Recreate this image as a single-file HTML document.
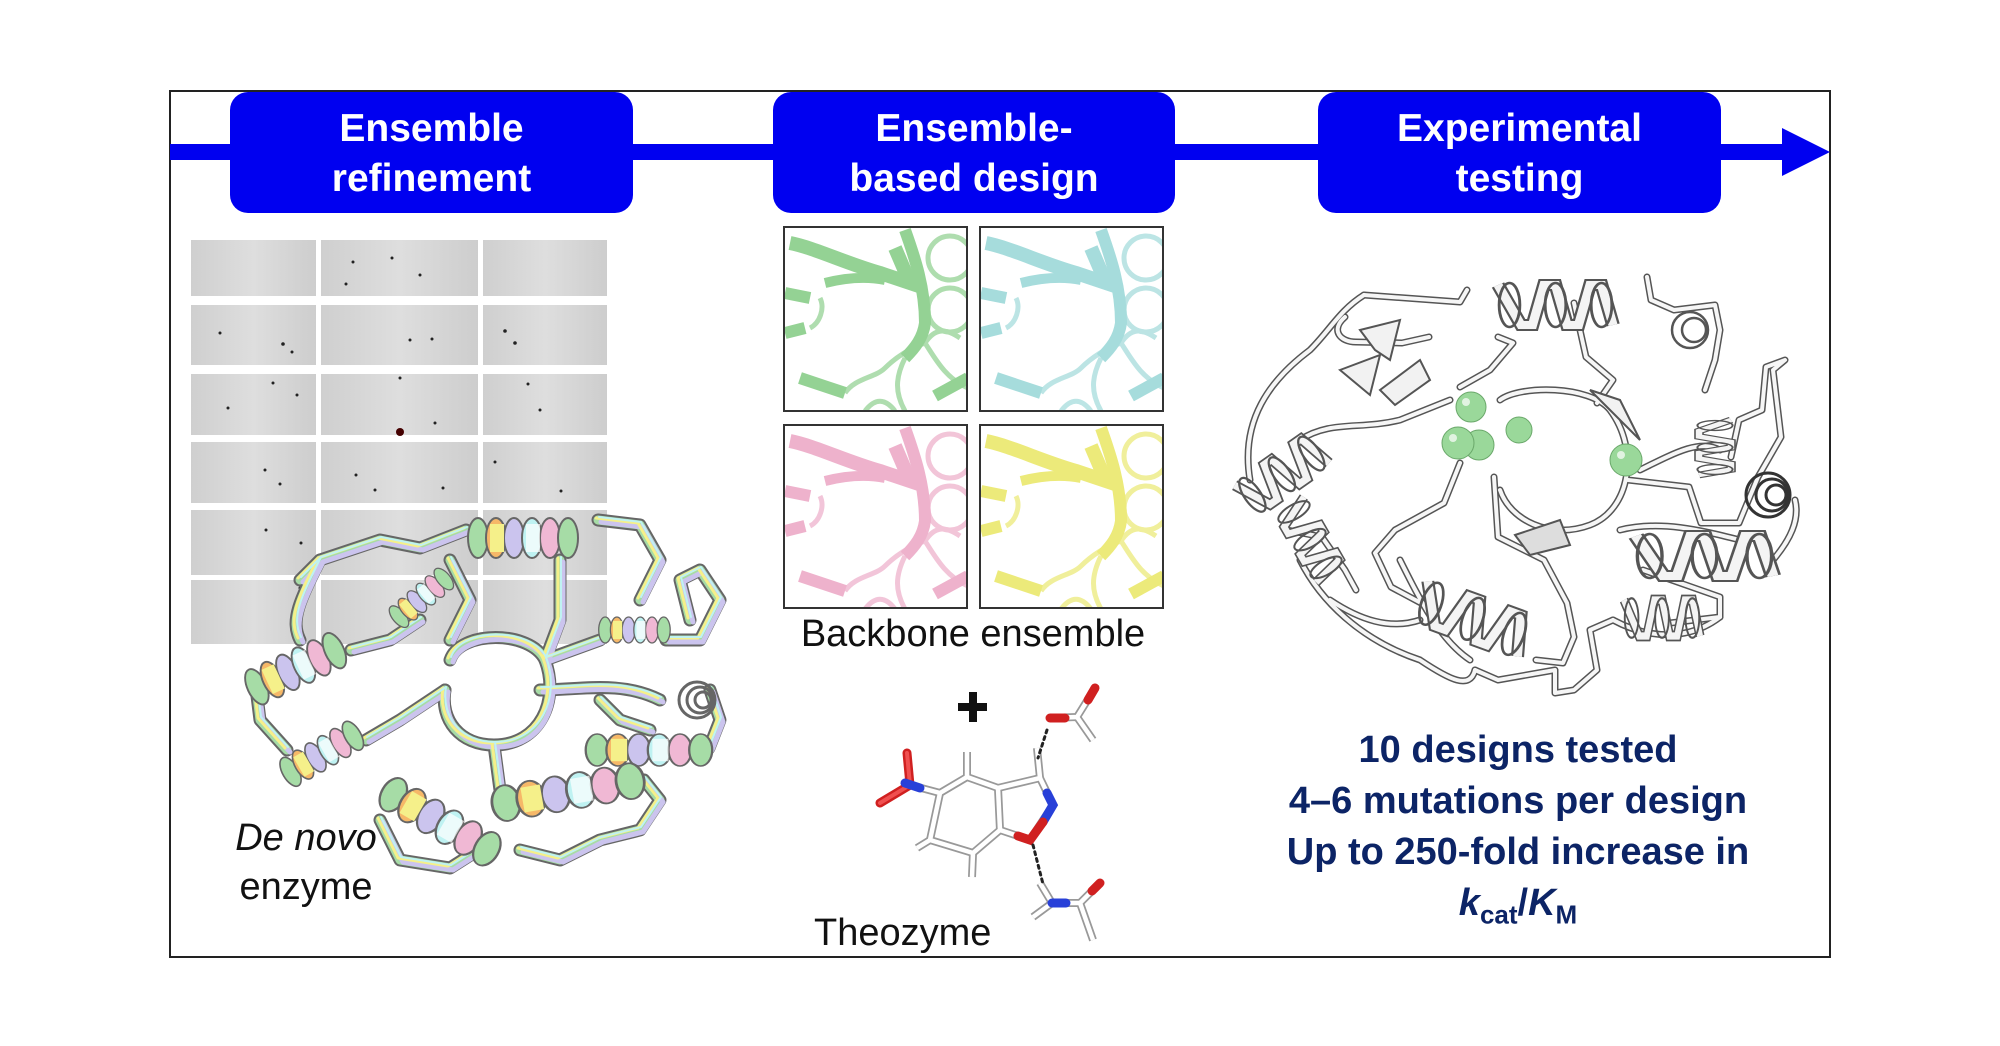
<!DOCTYPE html>
<html><head><meta charset="utf-8"><style>
html,body{margin:0;padding:0;background:#fff;}
body{width:2000px;height:1046px;position:relative;overflow:hidden;font-family:"Liberation Sans",Arial,sans-serif;}
.t{position:absolute;white-space:nowrap;}
</style></head><body>
<svg width="2000" height="1046" style="position:absolute;left:0;top:0" xmlns:xlink="http://www.w3.org/1999/xlink">
<defs>
<linearGradient id="g1" x1="0" x2="1"><stop offset="0" stop-color="#cfcfcf"/><stop offset=".5" stop-color="#dedede"/><stop offset="1" stop-color="#cdcdcd"/></linearGradient>
<symbol id="hx" overflow="visible">
<g stroke="#555" stroke-width="2.5" fill="#fafafa">
<path d="M0,-20 L20,20 L30,20 L40,-20 L50,-20 L60,20 L70,20 L80,-20 L90,-20 L100,20" fill="none" stroke="#555" stroke-width="12"/>
<path d="M0,-20 L20,20 L30,20 L40,-20 L50,-20 L60,20 L70,20 L80,-20 L90,-20 L100,20" fill="none" stroke="#f4f4f4" stroke-width="8"/>
<ellipse cx="10" cy="0" rx="9" ry="22" fill="none"/>
<ellipse cx="50" cy="0" rx="9" ry="22" fill="none"/>
<ellipse cx="90" cy="0" rx="9" ry="22" fill="none"/>
</g>
</symbol>
<symbol id="hxc" overflow="visible">
<g stroke="#666" stroke-width="2">
<ellipse cx="8" cy="0" rx="10" ry="20" fill="#a6dca6"/>
<ellipse cx="26" cy="0" rx="10" ry="20" fill="#f6b868"/>
<ellipse cx="44" cy="0" rx="10" ry="20" fill="#cbc4ee"/>
<ellipse cx="62" cy="0" rx="10" ry="20" fill="#bff2f2"/>
<ellipse cx="80" cy="0" rx="10" ry="20" fill="#f0b8d4"/>
<ellipse cx="98" cy="0" rx="10" ry="20" fill="#a6dca6"/>
<rect x="20" y="-14" width="14" height="28" fill="#f5f08a" stroke="none"/>
<rect x="56" y="-14" width="14" height="28" fill="#fff" stroke="none" opacity=".7"/>
</g>
</symbol>
<g id="rloops">
<path d="M1364,295 L1460,302 L1467,290"/>
<path d="M1345,317 C1330,330 1340,342 1356,342 L1402,343 L1429,337"/>
<path d="M1500,400 C1520,385 1590,385 1610,410 C1640,450 1630,510 1590,525 C1550,540 1510,520 1500,490"/>
<path d="M1460,463 L1444,503 L1395,530 L1375,553 L1391,587 L1421,603"/>
<path d="M1494,477 L1498,537 L1544,560 L1567,603 L1574,637 L1563,663 L1536,660"/>
<path d="M1628,480 L1689,487 L1701,523 L1739,523 L1758,477 L1781,437 L1773,370 L1785,360 L1766,367 L1762,410 L1739,420 L1731,457"/>
<path d="M1643,570 L1720,597 L1720,617 L1670,623"/>
<path d="M1287,530 L1322,537 L1345,570 L1356,590"/>
<path d="M1475,670 L1498,680 L1555,670 L1555,693 L1574,690 L1597,670 L1590,630 L1613,620"/>
<path d="M1647,277 L1651,300 L1674,310 L1715,305 L1720,330 L1715,360 L1705,390"/>
<path d="M1574,303 L1586,357 L1613,380 L1597,403"/>
<path d="M1460,387 L1490,370 L1513,343 L1498,337"/>
<path d="M1300,440 C1330,420 1360,430 1400,420 L1450,400"/>
<path d="M1620,530 C1660,520 1700,530 1740,540"/>
<path d="M1400,560 C1420,600 1440,640 1470,660"/>
<path d="M1330,600 C1360,620 1390,630 1420,620"/>
<path d="M1640,470 C1680,450 1700,440 1720,450"/>
<path d="M1250,480 C1240,420 1270,380 1310,350 C1330,330 1340,310 1364,295"/>
<path d="M1300,560 C1320,600 1360,640 1420,660 C1450,680 1470,690 1475,670"/>
<path d="M1613,620 C1650,640 1690,640 1720,617"/>
<path d="M1773,560 C1790,540 1800,520 1795,500"/>
</g>
<g id="lloops">
<path d="M300,580 L320,560 L380,540 L420,548 L466,530"/>
<path d="M598,520 L640,525 L660,560 L640,600"/>
<path d="M351,650 L390,640 L420,620"/>
<path d="M450,660 C460,630 530,630 545,660 C560,700 540,745 494,745 C460,745 440,720 445,690"/>
<path d="M666,640 L700,640 L720,600 L700,570 L680,580 L690,620"/>
<path d="M709,748 L720,720 L710,690"/>
<path d="M494,745 L500,790"/>
<path d="M366,740 L400,720 L445,690"/>
<path d="M545,660 L600,640"/>
<path d="M380,820 L400,860 L450,868 L494,840"/>
<path d="M644,780 L660,800 L640,830 L600,840 L560,860 L520,850"/>
<path d="M287,750 L260,720 L255,680"/>
<path d="M450,560 L470,600 L450,640"/>
<path d="M560,560 L560,620 L545,660"/>
<path d="M600,700 L620,720 L650,730"/>
<path d="M320,560 C300,600 290,620 300,640"/>
<path d="M540,690 C580,690 620,680 660,700"/>
</g>
<g id="panel">
<path d="M5,15 C30,20 60,35 95,45 L125,55 L110,20" stroke-width="14" stroke="currentColor" fill="none"/>
<path d="M120,2 C130,30 140,60 140,95 C138,110 130,120 120,130" stroke-width="12" stroke="currentColor" fill="none"/>
<path d="M40,55 C60,50 80,48 100,52" stroke-width="10" stroke="currentColor" fill="none"/>
<path d="M0,65 L25,70 M0,105 L20,100 M15,150 C30,155 45,160 60,165 M150,168 L183,150" stroke-width="12" stroke="currentColor" fill="none"/>
<g fill="none" stroke="currentColor" stroke-width="5" opacity=".75">
<circle cx="165" cy="30" r="22"/><circle cx="165" cy="82" r="22"/>
<path d="M35,70 C40,80 35,95 25,100 M100,140 C110,130 125,120 140,115 C150,130 160,150 183,160 M60,165 C70,150 90,150 100,140 M140,115 C150,100 160,100 175,110 M80,183 C90,170 100,170 110,183 M120,130 C110,150 110,165 120,183"/>
</g>
</g>
</defs>
<rect x="170" y="91" width="1660" height="866" fill="#fff" stroke="#222" stroke-width="2"/>
<rect x="170" y="144" width="1620" height="16" fill="#0000f0"/>
<polygon points="1782,128 1830,152 1782,176" fill="#0000f0"/>
<rect x="230" y="92" width="403" height="121" rx="18" fill="#0000f0"/>
<rect x="773" y="92" width="402" height="121" rx="18" fill="#0000f0"/>
<rect x="1318" y="92" width="403" height="121" rx="18" fill="#0000f0"/>
<g fill="url(#g1)">
<rect x="191" y="240" width="125" height="56"/><rect x="321" y="240" width="157" height="56"/><rect x="483" y="240" width="124" height="56"/>
<rect x="191" y="305" width="125" height="60"/><rect x="321" y="305" width="157" height="60"/><rect x="483" y="305" width="124" height="60"/>
<rect x="191" y="374" width="125" height="61"/><rect x="321" y="374" width="157" height="61"/><rect x="483" y="374" width="124" height="61"/>
<rect x="191" y="442" width="125" height="61"/><rect x="321" y="442" width="157" height="61"/><rect x="483" y="442" width="124" height="61"/>
<rect x="191" y="510" width="125" height="65"/><rect x="321" y="510" width="157" height="65"/><rect x="483" y="510" width="124" height="65"/>
<rect x="191" y="580" width="125" height="64"/><rect x="321" y="580" width="157" height="64"/><rect x="483" y="580" width="124" height="64"/>
</g>
<g fill="#222">
<circle cx="353" cy="262" r="1.5"/><circle cx="392" cy="258" r="1.5"/><circle cx="420" cy="275" r="1.5"/><circle cx="346" cy="284" r="1.5"/>
<circle cx="220" cy="333" r="1.5"/><circle cx="283" cy="344" r="1.8"/><circle cx="292" cy="352" r="1.5"/><circle cx="410" cy="340" r="1.5"/><circle cx="432" cy="339" r="1.5"/><circle cx="505" cy="331" r="1.8"/><circle cx="515" cy="343" r="1.8"/>
<circle cx="273" cy="383" r="1.5"/><circle cx="297" cy="395" r="1.5"/><circle cx="228" cy="408" r="1.5"/><circle cx="400" cy="378" r="1.5"/><circle cx="435" cy="423" r="1.5"/><circle cx="528" cy="384" r="1.5"/><circle cx="540" cy="410" r="1.5"/>
<circle cx="400" cy="432" r="4" fill="#400"/>
<circle cx="265" cy="470" r="1.5"/><circle cx="280" cy="484" r="1.5"/><circle cx="356" cy="475" r="1.5"/><circle cx="375" cy="490" r="1.5"/><circle cx="443" cy="488" r="1.5"/><circle cx="495" cy="462" r="1.5"/><circle cx="561" cy="491" r="1.5"/>
<circle cx="266" cy="530" r="1.5"/><circle cx="301" cy="543" r="1.5"/><circle cx="300" cy="588" r="1.5"/>
</g>
<g fill="none" stroke-linecap="round" stroke-linejoin="round">
<use xlink:href="#lloops" stroke="#666" stroke-width="13"/>
<use xlink:href="#lloops" stroke="#a6dca6" stroke-width="9"/>
<use xlink:href="#lloops" stroke="#cbc4ee" stroke-width="5" transform="translate(3,2)"/>
<use xlink:href="#lloops" stroke="#f5f08a" stroke-width="3" transform="translate(-2,-2)"/>
<use xlink:href="#lloops" stroke="#bff2f2" stroke-width="2" transform="translate(1,-3)"/>
</g>
<use xlink:href="#hxc" transform="translate(470,538)"/>
<use xlink:href="#hxc" transform="translate(250,690) rotate(-25) scale(.95)"/>
<use xlink:href="#hxc" transform="translate(285,775) rotate(-30) scale(.8)"/>
<use xlink:href="#hxc" transform="translate(395,620) rotate(-40) scale(.65)"/>
<use xlink:href="#hxc" transform="translate(600,630) scale(.65)"/>
<use xlink:href="#hxc" transform="translate(588,750) scale(1.15,.8)"/>
<use xlink:href="#hxc" transform="translate(495,805) rotate(-10) scale(1.4,.9)"/>
<use xlink:href="#hxc" transform="translate(385,790) rotate(30) scale(1.2,.9)"/>
<g fill="none" stroke="#666" stroke-width="3"><circle cx="697" cy="700" r="18"/><circle cx="700" cy="700" r="13"/><circle cx="703" cy="700" r="8"/></g>
<g stroke="#333" stroke-width="2" fill="#fff">
<rect x="784" y="227" width="183" height="184"/>
<rect x="980" y="227" width="183" height="184"/>
<rect x="784" y="425" width="183" height="183"/>
<rect x="980" y="425" width="183" height="183"/>
</g>
<svg x="785" y="228" width="181" height="182" overflow="hidden"><use xlink:href="#panel" style="color:#94d294"/></svg>
<svg x="981" y="228" width="181" height="182" overflow="hidden"><use xlink:href="#panel" style="color:#a6dcdc"/></svg>
<svg x="785" y="426" width="181" height="181" overflow="hidden"><use xlink:href="#panel" style="color:#eeb2cc"/></svg>
<svg x="981" y="426" width="181" height="181" overflow="hidden"><use xlink:href="#panel" style="color:#ecea7a"/></svg>
<rect x="958" y="703" width="29" height="8" fill="#111"/><rect x="969" y="692" width="8" height="30" fill="#111"/>
<g fill="none" stroke-linecap="round" stroke-linejoin="round">
<g id="mol">
<path d="M940,793 L967,777 L998,788 L1000,830 L973,853 L930,840 Z"/>
<path d="M998,788 L1040,778 L1053,805 L1030,840 L1000,830"/>
<path d="M967,777 L967,752 M973,853 L972,877 M930,840 L917,848 M1040,778 L1037,748 M940,793 L910,785"/>
<path d="M1050,718 L1077,717 L1095,688 M1077,717 L1093,740"/>
<path d="M1052,903 L1080,903 L1100,883 M1080,903 L1093,940 M1052,903 L1033,917 M1052,903 L1040,883"/>
</g>
</g>
<use xlink:href="#mol" stroke="#999" stroke-width="8" fill="none"/>
<use xlink:href="#mol" stroke="#fff" stroke-width="4.5" fill="none"/>
<g stroke-linecap="round" fill="none">
<path d="M910,785 L907,753 M910,785 L880,803" stroke="#d02020" stroke-width="9"/>
<path d="M910,785 L907,753 M910,785 L880,803" stroke="#f05050" stroke-width="4"/>
<path d="M920,788 L905,783" stroke="#2840d8" stroke-width="9"/>
<path d="M1047,793 L1053,805 L1043,822" stroke="#2840d8" stroke-width="9"/>
<path d="M1043,822 L1030,840 L1018,836" stroke="#d02020" stroke-width="9"/>
<path d="M1050,718 L1065,718 M1095,688 L1088,700" stroke="#d02020" stroke-width="9"/>
<path d="M1052,903 L1066,903" stroke="#2840d8" stroke-width="9"/>
<path d="M1100,883 L1092,891" stroke="#d02020" stroke-width="9"/>
<path d="M1047,730 L1038,758 M1033,845 L1043,884" stroke="#222" stroke-width="3" stroke-dasharray="3,4"/>
</g>
<g fill="none" stroke-linecap="round" stroke-linejoin="round">
<use xlink:href="#rloops" stroke="#555" stroke-width="7"/>
<use xlink:href="#rloops" stroke="#f6f6f6" stroke-width="4"/>
</g>
<g stroke="#555" stroke-width="2" fill="#f2f2f2">
<path d="M1590,390 L1620,400 L1640,440 L1630,430 L1610,410 Z"/>
<path d="M1515,535 L1560,520 L1570,545 L1530,555 Z" fill="#ddd"/>
<path d="M1360,330 L1400,320 L1390,360 L1375,350 Z"/>
<path d="M1380,390 L1420,360 L1430,380 L1395,405 Z"/>
<path d="M1340,370 L1380,355 L1370,395 Z"/>
</g>
<use xlink:href="#hx" transform="translate(1498,305) scale(1.15,1)"/>
<use xlink:href="#hx" transform="translate(1245,500) rotate(-35) scale(.9)"/>
<use xlink:href="#hx" transform="translate(1290,505) rotate(60) scale(.8)"/>
<use xlink:href="#hx" transform="translate(1636,556) scale(1.37,1)"/>
<use xlink:href="#hx" transform="translate(1624,618) scale(.76,.9)"/>
<use xlink:href="#hx" transform="translate(1421,600) rotate(20) scale(1.1,1)"/>
<use xlink:href="#hx" transform="translate(1715,420) rotate(90) scale(.55,.8)"/>
<g fill="none" stroke="#555" stroke-width="2.5"><circle cx="1690" cy="330" r="18"/><circle cx="1694" cy="330" r="12"/></g>
<g fill="none" stroke="#333" stroke-width="3"><circle cx="1768" cy="495" r="22"/><circle cx="1772" cy="495" r="16"/><circle cx="1776" cy="495" r="10"/></g>
<g fill="#9ad89a" stroke="#6aa86a" stroke-width="1">
<circle cx="1471" cy="407" r="15"/><circle cx="1479" cy="445" r="15"/><circle cx="1458" cy="443" r="16"/><circle cx="1519" cy="430" r="13"/><circle cx="1626" cy="460" r="16"/>
</g>
<g fill="#fff" opacity=".7"><circle cx="1466" cy="402" r="4"/><circle cx="1453" cy="438" r="4"/><circle cx="1621" cy="455" r="4"/></g>
</svg>
<div class="t" style="left:230px;width:403px;top:104px;text-align:center;color:#fff;font-weight:bold;font-size:39px;line-height:50px">Ensemble<br>refinement</div>
<div class="t" style="left:773px;width:402px;top:104px;text-align:center;color:#fff;font-weight:bold;font-size:39px;line-height:50px">Ensemble-<br>based design</div>
<div class="t" style="left:1318px;width:403px;top:104px;text-align:center;color:#fff;font-weight:bold;font-size:39px;line-height:50px">Experimental<br>testing</div>
<div class="t" style="left:773px;width:400px;top:613px;text-align:center;font-size:38px;color:#111">Backbone ensemble</div>
<div class="t" style="left:814px;top:912px;font-size:38px;color:#111">Theozyme</div>
<div class="t" style="left:206px;width:200px;top:814px;text-align:center;font-size:38px;line-height:49px;color:#111"><i>De novo</i><br>enzyme</div>
<div class="t" style="left:1218px;width:600px;top:725px;text-align:center;font-weight:bold;font-size:38px;line-height:51px;color:#0c2466">10 designs tested<br>4–6 mutations per design<br>Up to 250-fold increase in<br><i>k</i><sub style="font-size:26px">cat</sub>/<i>K</i><sub style="font-size:26px">M</sub></div>
</body></html>
